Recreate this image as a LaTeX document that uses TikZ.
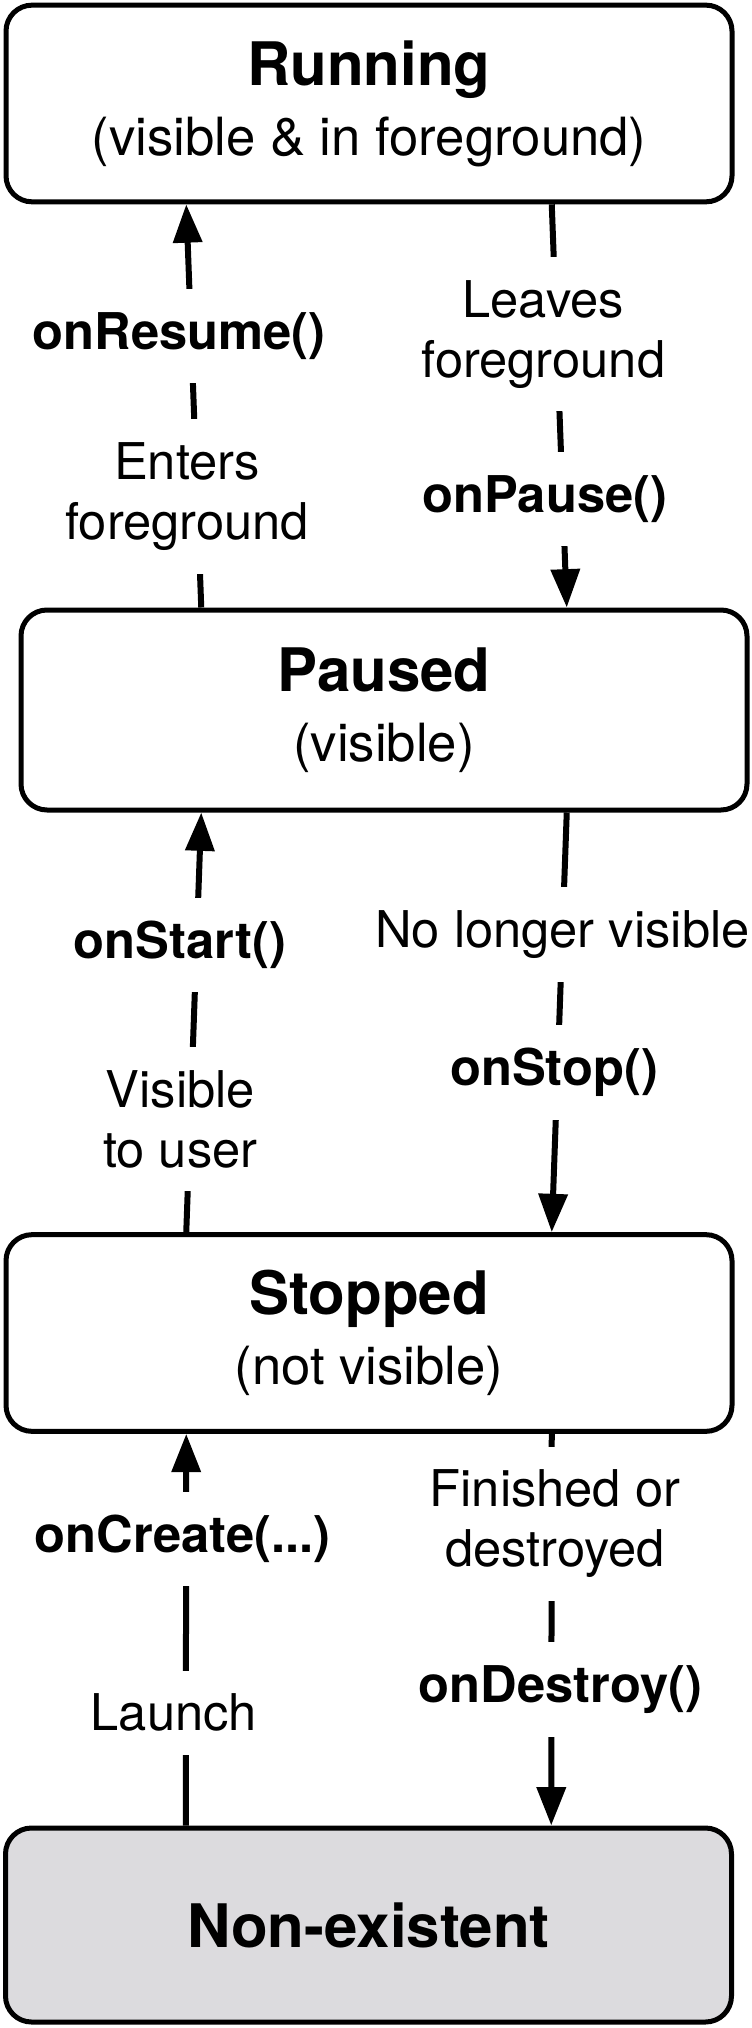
\documentclass[tikz,border=0pt]{standalone}
\usepackage{fontspec}
\setmainfont{TeX Gyre Heros}
\usetikzlibrary{positioning,arrows.meta,calc}
\definecolor{absentgray}{RGB}{220,219,222}
\newcommand{\statename}[1]{{\bfseries\fontsize{18}{21}\selectfont #1}}

\begin{document}
\begin{tikzpicture}[x=0.3pt,y=-0.3pt]
            \tikzset{actbox/.style={draw,line width=1.5pt,rounded corners=7.8pt,
                minimum width=217.8pt,minimum height=59pt,inner sep=0pt,
                align=center,font=\fontsize{15.8}{21}\selectfont}}
            \tikzset{flow/.style={line width=1.8pt,-{Triangle[length=11.5pt,width=8.5pt]}}}
            \tikzset{note/.style={fill=white,inner xsep=2pt,inner ysep=7pt,
                align=center,font=\fontsize{15.2}{18}\selectfont}}
            \tikzset{callback/.style={note,font=\fontsize{15.2}{18}\selectfont\bfseries}}
            \useasboundingbox (0,0) rectangle (751,2028);

            \node[actbox] (running) at (369,103.5) {\statename{Running}\\(visible \& in foreground)};
            \node[actbox,minimum height=60pt] (paused) at (384,710) {\statename{Paused}\\(visible)};
            \node[actbox] (stopped) at (369,1333) {\statename{Stopped}\\(not visible)};
            \node[actbox,minimum height=58.2pt,fill=absentgray] (absent) at (368.5,1925) {\statename{Non-existent}};

            % Running <-> Paused
            \draw[flow] ($(paused.north west)!.25!(paused.north east)$) -- ($(running.south west)!.25!(running.south east)$)
                node[callback,pos=.674,xshift=-3.6pt] (resume) {onResume()}
                node[note,pos=.275,xshift=-3pt] (enters) {Enters\\foreground};
            \draw[flow] ($(running.south west)!.75!(running.south east)$) -- ($(paused.north west)!.75!(paused.north east)$)
                node[note,pos=.322,xshift=-4pt] (leaves) {Leaves\\foreground}
                node[callback,pos=.73,xshift=-5.4pt] (pause) {onPause()};

            % Paused <-> Stopped
            \draw[flow] ($(stopped.north west)!.25!(stopped.north east)$) -- ($(paused.south west)!.25!(paused.south east)$)
                node[callback,pos=.684,xshift=-5pt] (start) {onStart()}
                node[note,pos=.269,xshift=-3pt] (visible) {Visible\\to user};
            \draw[flow] ($(paused.south west)!.75!(paused.south east)$) -- ($(stopped.north west)!.75!(stopped.north east)$)
                node[note,pos=.29] (hidden) {No longer visible}
                node[callback,pos=.62,xshift=-1pt] (stop) {onStop()};

            % Stopped <-> Non-existent
            \draw[flow] ($(absent.north west)!.25!(absent.north east)$) -- ($(stopped.south west)!.25!(stopped.south east)$)
                node[callback,pos=.732,xshift=-1pt] (create) {onCreate(...)}
                node[note,pos=.288,xshift=-3.6pt] (launch) {Launch};
            \draw[flow] ($(stopped.south west)!.75!(stopped.south east)$) -- ($(absent.north west)!.75!(absent.north east)$)
                node[note,pos=.23,xshift=1pt] (finished) {Finished or\\destroyed}
                node[callback,pos=.652,xshift=2.7pt] (destroy) {onDestroy()};
        \end{tikzpicture}
\end{document}
